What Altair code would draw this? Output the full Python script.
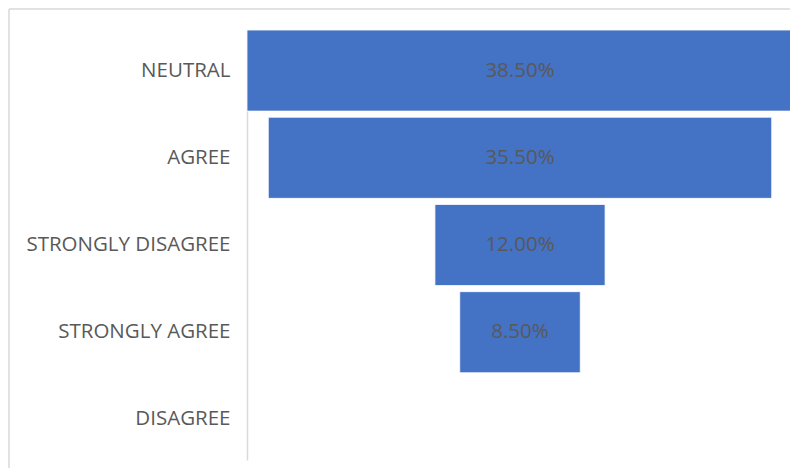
import altair as alt
import pandas as pd

categories = ["NEUTRAL", "AGREE", "STRONGLY DISAGREE", "STRONGLY AGREE", "DISAGREE"]
values = [38.5, 35.5, 12.0, 8.5, 0.0]
labels = ["38.50%", "35.50%", "12.00%", "8.50%", ""]

df = pd.DataFrame({"cat": categories, "v": values, "label": labels})
df["lo"] = -df["v"] / 2
df["hi"] = df["v"] / 2
df["mid"] = 0.0

maxv = max(values) / 2
xscale = alt.Scale(domain=[-maxv, maxv * 270 / 273], nice=False, zero=False)
yenc = alt.Y("cat:N", sort=categories, title=None,
             scale=alt.Scale(paddingInner=0.07, paddingOuter=0),
             axis=alt.Axis(domainColor="#d9d9d9", domainWidth=1.5, ticks=False,
                           labelPadding=17, labelFontSize=20.5, labelColor="#595959",
                           labelFont="Open Sans", labelLimit=400, grid=False))

base = alt.Chart(df)
bars = base.mark_bar(color="#4472C4", stroke="#ffffff", strokeWidth=0.8).encode(
    x=alt.X("lo:Q", scale=xscale, axis=None),
    x2="hi:Q",
    y=yenc,
)
text = base.mark_text(font="Open Sans", fontSize=20.5, color="#595959").encode(
    x=alt.X("mid:Q", scale=xscale, axis=None),
    y=alt.Y("cat:N", sort=categories),
    text="label:N",
)

frame = alt.Chart(alt.Data(values=[{}]))
border_top = frame.mark_rule(color="#d9d9d9", strokeWidth=1.5).encode(
    x=alt.value(-238), x2=alt.value(600), y=alt.value(-21))
border_left = frame.mark_rule(color="#d9d9d9", strokeWidth=1.5).encode(
    x=alt.value(-238), y=alt.value(-21), y2=alt.value(460))

chart = alt.layer(border_top, border_left, bars, text).properties(
    width=543, height=430,
    autosize=alt.AutoSizeParams(type="none"),
    padding={"left": 239, "top": 22, "right": 0, "bottom": 8},
).configure_view(stroke=None)

chart.save("out.html", embed_options={"renderer": "svg", "actions": False})
